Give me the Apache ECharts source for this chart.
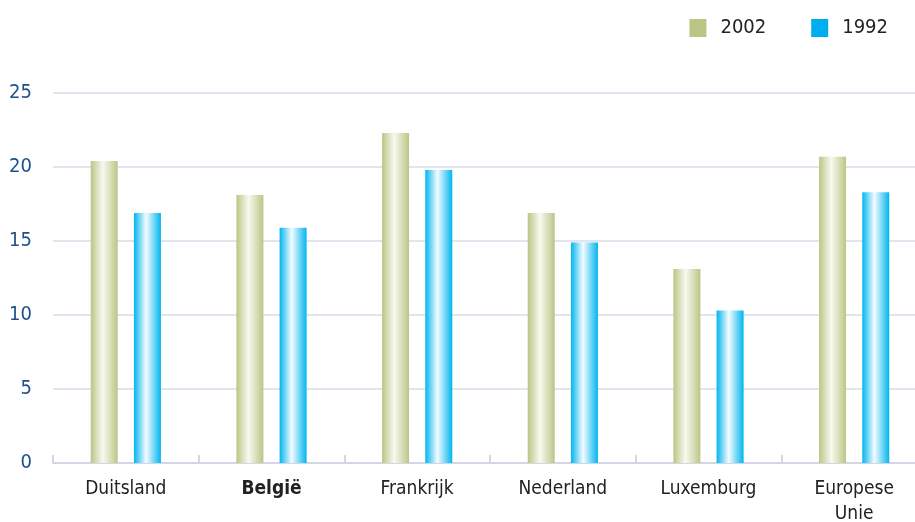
<!DOCTYPE html>
<html><head><meta charset="utf-8">
<script src="https://cdn.jsdelivr.net/npm/echarts@6/dist/echarts.min.js"></script>
<style>html,body{margin:0;padding:0;background:#fff;overflow:hidden;width:915px;height:522px}#c{width:927px;height:522px}</style>
</head><body><div id="c"></div>
<script>
const categories = ['Duitsland', 'België', 'Frankrijk', 'Nederland', 'Luxemburg', 'Europese\nUnie'];
const values2002 = [20.4, 18.1, 22.3, 16.9, 13.1, 20.7];
const values1992 = [16.9, 15.9, 19.8, 14.9, 10.3, 18.3];
const yTicks = [0, 5, 10, 15, 20, 25];

const FONT = "'Liberation Sans Narrow', 'DejaVu Sans Condensed', 'Open Sans', sans-serif";
function grad(edge, mid) {
  return new echarts.graphic.LinearGradient(0, 0, 1, 0, [
    {offset: 0, color: edge}, {offset: 0.45, color: mid}, {offset: 1, color: edge}
  ]);
}
const chart = echarts.init(document.getElementById('c'), null, {renderer: 'canvas'});
chart.setOption({
  animation: false,
  legend: {
    top: 13, right: 34, itemWidth: 17, itemHeight: 18, itemGap: 45,
    icon: 'rect',
    textStyle: {fontFamily: FONT, fontSize: 20, color: '#222', padding: [0, 0, 0, 9]},
    data: [{name: '2002', itemStyle: {color: '#bcc585'}}, {name: '1992', itemStyle: {color: '#00aeef'}}]
  },
  grid: {left: 53, right: 0, top: 93, bottom: 59, containLabel: false, outerBoundsMode: 'none'},
  xAxis: {
    type: 'category', data: categories,
    axisLine: {lineStyle: {color: '#d3d6e6', width: 2}},
    axisTick: {show: true, inside: true, length: 8, lineStyle: {color: '#d3d6e6', width: 2}},
    axisLabel: {
      margin: 14, fontFamily: FONT, fontSize: 19, color: '#222', lineHeight: 25,
      formatter: v => v === 'België' ? '{b|' + v + '}' : v,
      rich: {b: {fontWeight: 'bold', fontFamily: FONT, fontSize: 19, color: '#222'}}
    }
  },
  yAxis: {
    type: 'value', min: 0, max: 25, interval: 5,
    axisLine: {show: false}, axisTick: {show: false},
    splitLine: {lineStyle: {color: '#d8dbea', width: 1.5}},
    axisLabel: {margin: 21, fontFamily: FONT, fontSize: 20, color: '#1f4f8c',
      formatter: v => yTicks.includes(v) ? String(v) : ''}
  },
  series: [
    {name: '2002', type: 'bar', data: values2002, barWidth: 27, barGap: '60%',
     itemStyle: {color: grad('#bcc585', '#f8f9f0')}},
    {name: '1992', type: 'bar', data: values1992, barWidth: 27, barGap: '60%',
     itemStyle: {color: grad('#00b6ee', '#f4fbff')}}
  ]
});
</script></body></html>
